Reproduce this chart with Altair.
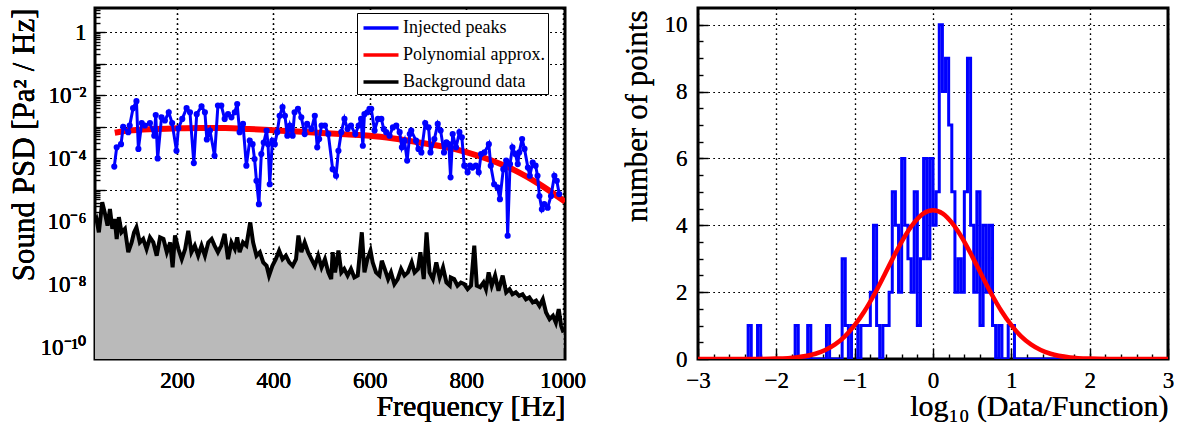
import altair as alt
import pandas as pd

FONT = "Liberation Serif"

# ---------------- Left panel data (log10 of PSD) ----------------
inj_freq = [70, 75, 84, 88.5, 99, 102, 109, 116, 120, 127, 133.5, 144, 153, 156, 160, 168, 175, 183, 190, 199,
            203, 211, 220, 227, 235, 241, 251, 258, 262, 268.5, 278, 285, 292, 299, 306, 313, 320, 325, 330, 337,
            344, 351, 357, 361, 365, 370, 375, 380, 386, 389, 392.5, 398, 403, 408, 413, 419, 424, 429, 434, 440,
            444, 451, 458, 465, 470, 479, 486, 491, 495, 500, 507, 514, 523, 530, 535, 541, 547.5, 554, 561, 570,
            577, 582, 585.6, 589, 595, 599.4, 603, 610, 617, 624, 629, 634, 641, 648, 655, 662, 666.6, 672, 677.6, 683,
            686, 696, 701, 707, 715, 722, 726, 734, 741, 747, 754, 759, 764, 767.6, 772, 779, 786, 791, 796, 803,
            808, 813, 820, 826, 831, 838, 847, 851, 858, 865, 870, 877, 883, 886, 891, 896, 902, 907, 910, 916,
            921, 928, 932, 938, 944, 948, 952, 957, 962, 969, 976, 983, 988, 993]
inj_log = [-4.26, -3.65, -3.55, -3.0, -3.17, -2.96, -2.41, -2.19, -3.7, -2.88, -2.96, -2.88, -3.28, -2.63, -4.0, -2.7, -2.8, -2.54, -2.88, -3.76,
           -3.05, -2.75, -2.41, -2.54, -4.15, -2.6, -2.35, -2.54, -3.4, -3.12, -3.92, -2.33, -2.33, -2.75, -2.6, -2.7, -2.54, -2.28, -3.17, -2.91,
           -4.23, -3.44, -3.55, -4.02, -4.71, -5.45, -3.86, -3.5, -3.12, -3.55, -4.82, -3.44, -3.55, -3.17, -2.65, -2.38, -2.65, -3.28, -2.96, -3.28,
           -2.54, -2.43, -2.7, -3.23, -2.91, -3.07, -2.65, -3.65, -3.39, -2.96, -2.96, -3.23, -4.34, -4.55, -3.76, -3.17, -2.75, -3.07, -2.96, -3.23,
           -2.96, -2.75, -3.6, -2.6, -2.54, -2.43, -2.43, -3.12, -2.75, -2.75, -3.07, -3.17, -3.28, -3.02, -2.96, -3.17, -3.65, -3.44, -4.07, -3.23,
           -3.12, -3.44, -3.7, -3.81, -2.88, -3.02, -3.81, -3.39, -2.91, -3.12, -3.81, -3.49, -3.55, -4.6, -3.23, -3.65, -3.17, -3.33, -4.23, -4.44,
           -4.23, -4.29, -4.23, -4.44, -3.86, -3.81, -3.55, -4.23, -4.82, -4.92, -5.29, -4.34, -4.07, -6.45, -4.18, -3.65, -3.86, -4.18, -3.81, -3.39,
           -3.7, -4.29, -4.55, -4.13, -4.23, -4.55, -5.19, -5.61, -5.45, -5.56, -5.19, -4.55, -4.71, -5.13]

poly_freq = [71, 100, 150, 200, 250, 300, 350, 400, 450, 500, 550, 600, 650, 700, 750, 800, 850, 900, 950, 1005]
poly_log = [-3.19, -3.12, -3.07, -3.05, -3.04, -3.04, -3.07, -3.11, -3.15, -3.2, -3.24, -3.28, -3.37, -3.49, -3.62,
            -3.8, -4.05, -4.37, -4.8, -5.37]

bg_freq = [30, 33, 38, 45, 50, 56, 61, 66, 71, 75, 79.5, 85, 92, 99, 106, 111, 116, 123, 130, 137,
           144, 151, 158, 165, 172, 179, 186, 191, 196, 203, 210, 217, 223.5, 230, 237, 244, 251, 258, 265, 272,
           278, 285, 292, 299, 306, 313, 320, 325, 330, 337, 344, 352, 358, 365, 372, 379, 386, 391, 398, 405,
           412, 419, 426, 433, 440, 447, 452, 458, 465, 472, 479, 486, 493, 500, 507, 514, 520, 523, 528, 535,
           541, 547, 554, 561, 568, 575, 583.5, 589, 595, 601.5, 606, 613, 620, 625, 631, 638, 644, 651, 658, 665,
           672, 679, 687, 693, 700, 705, 712, 717.8, 724, 731, 738, 745, 752, 759, 766, 768, 775, 782, 789, 796,
           803, 810, 816.8, 822, 829, 836, 841, 846.6, 853, 860, 867, 875.7, 883, 890, 896, 903, 910, 917, 924, 931,
           938, 945, 952, 959, 965.7, 973, 980, 986, 992, 997, 1002]
bg_log = [-6.0, -5.92, -6.34, -5.39, -5.7, -6.13, -5.6, -6.23, -5.92, -6.55, -5.86, -6.34, -6.23, -6.97, -6.66, -6.34, -6.18, -6.66, -6.55, -6.87,
          -6.5, -6.66, -7.08, -6.5, -6.55, -6.97, -6.66, -7.45, -6.44, -6.87, -7.19, -6.87, -6.29, -6.97, -6.76, -7.08, -6.76, -7.08, -6.66, -6.55,
          -6.76, -6.97, -6.76, -6.39, -7.19, -6.66, -6.87, -6.5, -6.97, -6.66, -6.76, -6.02, -6.66, -7.08, -6.97, -7.29, -7.4, -7.71, -7.4, -7.19,
          -6.92, -7.19, -7.08, -7.29, -7.4, -7.19, -6.44, -6.97, -6.66, -6.97, -7.19, -7.4, -7.08, -7.45, -7.19, -7.61, -7.82, -6.97, -7.61, -6.92,
          -7.61, -7.5, -7.71, -7.5, -7.77, -7.71, -6.34, -7.61, -7.19, -6.92, -7.29, -7.61, -7.71, -7.24, -7.5, -7.82, -7.61, -7.98, -7.82, -7.5,
          -7.71, -7.61, -7.29, -7.61, -7.5, -6.97, -7.82, -6.34, -7.61, -7.82, -7.29, -7.77, -7.45, -7.93, -8.03, -7.77, -7.82, -8.03, -7.93, -7.98,
          -8.14, -8.03, -6.76, -8.03, -8.08, -7.93, -8.14, -7.61, -8.03, -7.71, -8.19, -7.71, -8.24, -8.14, -8.3, -8.24, -8.35, -8.3, -8.46, -8.4,
          -8.56, -8.5, -8.67, -8.46, -8.88, -9.09, -8.98, -9.2, -8.77, -9.3, -9.51]

series_names = ["Injected peaks", "Polynomial approx.", "Background data"]
series_colors = ["#0000ff", "#ff0000", "#000000"]

# axis tick values
left_x_major = [200, 400, 600, 800, 1000]
left_x_minor_step = 25
left_y_decades = list(range(-10, 1))
right_x_major = [-3, -2, -1, 0, 1, 2, 3]
right_x_minor_step = 0.2
right_y_major = [0, 2, 4, 6, 8, 10]
right_y_minor_step = 0.5

# ---------------- Right panel data ----------------
hist_start = -3.0
hist_bin_width = 0.04
hist_counts = [0, 0, 0, 0, 0, 0, 0, 0, 0, 0,
               0, 0, 0, 0, 0, 0, 1, 0, 0, 1,
               0, 0, 0, 0, 0, 0, 0, 0, 0, 0,
               0, 1, 0, 0, 0, 1, 0, 0, 0, 0,
               0, 1, 0, 0, 0, 0, 3, 1, 0, 1,
               1, 0, 1, 1, 1, 2, 4, 1, 0, 1,
               1, 2, 5, 4, 2, 6, 4, 3, 2, 5,
               1, 3, 6, 3, 6, 4, 5, 10, 8, 9,
               7, 5, 2, 3, 2, 5, 9, 4, 2, 5,
               1, 4, 2, 4, 1, 0, 1, 0, 0, 1,
               1, 0, 0, 0, 0, 0, 0, 0, 0, 0,
               0, 0, 0, 0, 0, 0, 0, 0, 0, 0,
               0, 0, 0, 0, 0, 0, 0, 0, 0, 0,
               0, 0, 0, 0, 0, 0, 0, 0, 0, 0,
               0, 0, 0, 0, 0, 0, 0, 0, 0, 0]

fit_x = [-3, -2.75, -2.5, -2.25, -2, -1.75, -1.5, -1.375, -1.25, -1.125, -1, -0.875, -0.75, -0.625, -0.5, -0.375,
         -0.25, -0.125, 0, 0.125, 0.25, 0.375, 0.5, 0.625, 0.75, 0.875, 1, 1.125, 1.25, 1.375, 1.5, 1.75, 2,
         2.25, 2.5, 2.75, 3]
fit_y = [0.0, 0.0001, 0.0004, 0.0024, 0.0117, 0.047, 0.157, 0.268, 0.436, 0.678, 1.01, 1.43, 1.93, 2.49, 3.07, 3.61,
         4.05, 4.35, 4.45, 4.35, 4.05, 3.61, 3.07, 2.49, 1.93, 1.43, 1.01, 0.678, 0.436, 0.268, 0.157, 0.047, 0.0117,
         0.0024, 0.0004, 0.0001, 0.0]

# ---------------- Build tables ----------------
inj = pd.DataFrame({"f": inj_freq, "psd": [10 ** v for v in inj_log], "series": series_names[0]})
poly = pd.DataFrame({"f": poly_freq, "psd": [10 ** v for v in poly_log], "series": series_names[1]})
bg = pd.DataFrame({"f": bg_freq, "psd": [10 ** v for v in bg_log], "series": series_names[2]})

hist_x = [hist_start + hist_bin_width * k for k in range(len(hist_counts))] + [hist_start + hist_bin_width * len(hist_counts)]
hist = pd.DataFrame({"x": hist_x, "n": hist_counts + [hist_counts[-1]]})
fit = pd.DataFrame({"x": fit_x, "y": fit_y})

W, H = 470, 351
X_LEFT = [30, 1005]
Y_MIN, Y_MAX = 10 ** -10.35, 10 ** 0.76

base_axis = dict(labelFont=FONT, titleFont=FONT, labelColor="black", titleColor="black",
                 titleFontWeight="normal", domain=False, labelFlush=False)
grid_style = dict(grid=True, gridColor="black", gridDash=[1.5, 3.5], gridWidth=1.2, gridOpacity=1,
                  ticks=False, **base_axis)


def tick_axis(orient, values, size):
    return alt.Axis(orient=orient, values=values, offset=-size, tickSize=size, tickWidth=1.4, tickColor="black",
                    labels=False, grid=False, domain=False, title=None)


expo = "round(log(datum.value)/LN10)"
sup = {0: "1", -2: "10⁻²", -4: "10⁻⁴", -6: "10⁻⁶", -8: "10⁻⁸", -10: "10⁻¹⁰"}
label_expr = "".join(f"{expo} == {k} ? '{v}' : " for k, v in sup.items()) + "''"

sx_left = alt.Scale(domain=X_LEFT, nice=False, zero=False)
sy_left = alt.Scale(type="log", domain=[Y_MIN, Y_MAX], nice=False)

x_left = alt.X("f:Q", scale=sx_left,
               axis=alt.Axis(orient="bottom", values=left_x_major, format="d", title="Frequency [Hz]",
                             labelFontSize=23, labelPadding=10, titleFontSize=30, titleAnchor="end", titleX=W,
                             titleY=56, titleBaseline="alphabetic", **grid_style))
y_left = alt.Y("psd:Q", scale=sy_left,
               axis=alt.Axis(orient="left", values=[10.0 ** k for k in left_y_decades], labelExpr=label_expr,
                             labelFontSize=23, labelPadding=9, title="Sound PSD [Pa² / Hz]", titleFontSize=31,
                             titleAnchor="end", titleX=-62, titleY=0, titleBaseline="alphabetic", **grid_style))

color = alt.Color("series:N", scale=alt.Scale(domain=series_names, range=series_colors),
                  legend=alt.Legend(title=None, orient="none", legendX=262, legendY=5,
                                    symbolType="M-1.75,0H1.75", symbolStrokeWidth=3.5, symbolSize=400,
                                    symbolOffset=9, labelFont=FONT, labelFontSize=18, labelColor="black",
                                    labelExpr="datum.label + '\u2003\u2002\u2009'",
                                    fillColor="white", strokeColor="black", padding=3, rowPadding=6,
                                    labelOffset=10))

bg_area = alt.Chart(bg).mark_area(color="#bababa", clip=True).encode(x=x_left, y=y_left, y2=alt.datum(Y_MIN))
bg_line = alt.Chart(bg).mark_line(strokeWidth=4, clip=True).encode(x=x_left, y=y_left, color=color)
poly_line = alt.Chart(poly).mark_line(strokeWidth=6, interpolate="monotone", clip=True).encode(
    x=x_left, y=y_left, color=color)
inj_line = alt.Chart(inj).mark_line(strokeWidth=3, clip=True,
                                    point=alt.OverlayMarkDef(size=38, filled=True, color="#0000ff")).encode(
    x=x_left, y=y_left, color=color)

left_x_minor = list(range(X_LEFT[0] + 20, X_LEFT[1], left_x_minor_step))
left_y_minor = [m * 10.0 ** k for k in left_y_decades for m in range(2, 10) if m * 10.0 ** k < Y_MAX]

left_ticks_major = alt.Chart(bg).mark_point(opacity=0).encode(
    x=alt.X("f:Q", scale=sx_left, axis=tick_axis("bottom", left_x_major, 10)),
    y=alt.Y("psd:Q", scale=sy_left, axis=tick_axis("left", [10.0 ** k for k in left_y_decades], 10)))
left_ticks_minor = alt.Chart(bg).mark_point(opacity=0).encode(
    x=alt.X("f:Q", scale=sx_left, axis=tick_axis("bottom", left_x_minor, 5)),
    y=alt.Y("psd:Q", scale=sy_left, axis=tick_axis("left", left_y_minor, 5)))

left = alt.layer(bg_area, bg_line, poly_line, inj_line, left_ticks_major, left_ticks_minor).resolve_axis(
    x="independent", y="independent").properties(width=W, height=H)

sx_right = alt.Scale(domain=[-3, 3], nice=False, zero=False)
sy_right = alt.Scale(domain=[0, 10.5], nice=False, zero=False)

x_right = alt.X("x:Q", scale=sx_right,
                axis=alt.Axis(orient="bottom", values=right_x_major, title="log₁₀ (Data/Function)",
                              labelFontSize=23, labelPadding=10, titleFontSize=30, titleAnchor="end", titleX=W,
                              titleY=56, titleBaseline="alphabetic", **grid_style))
y_right_axis = alt.Axis(orient="left", values=right_y_major, title="number of points", labelFontSize=23,
                        labelPadding=11, titleFontSize=31, titleAnchor="end", titleX=-52, titleY=2,
                        titleBaseline="alphabetic", **grid_style)

hist_line = alt.Chart(hist).mark_line(interpolate="step-after", color="#0000ff", strokeWidth=3, clip=True).encode(
    x=x_right, y=alt.Y("n:Q", scale=sy_right, axis=y_right_axis))
fit_line = alt.Chart(fit).mark_line(interpolate="monotone", color="#ff0000", strokeWidth=4.5, clip=True).encode(
    x=x_right, y=alt.Y("y:Q", scale=sy_right, axis=y_right_axis))

right_x_minor = [round(-3 + right_x_minor_step * k, 2) for k in range(1, 30)]
right_y_minor = [right_y_minor_step * k for k in range(1, 21)]

right_ticks_major = alt.Chart(hist).mark_point(opacity=0).encode(
    x=alt.X("x:Q", scale=sx_right, axis=tick_axis("bottom", right_x_major, 10)),
    y=alt.Y("n:Q", scale=sy_right, axis=tick_axis("left", right_y_major, 10)))
right_ticks_minor = alt.Chart(hist).mark_point(opacity=0).encode(
    x=alt.X("x:Q", scale=sx_right, axis=tick_axis("bottom", right_x_minor, 5)),
    y=alt.Y("n:Q", scale=sy_right, axis=tick_axis("left", right_y_minor, 5)))

right = alt.layer(hist_line, fit_line, right_ticks_major, right_ticks_minor).resolve_axis(
    x="independent", y="independent").properties(width=W, height=H)

chart = alt.hconcat(left, right, spacing=31).properties(
    padding={"left": 6, "top": 6, "right": 0, "bottom": 0}, background="white"
).configure_view(stroke="black", strokeWidth=3).configure_axis(labelFont=FONT, titleFont=FONT)

chart.save("out.html", embed_options={"renderer": "svg", "actions": False})
